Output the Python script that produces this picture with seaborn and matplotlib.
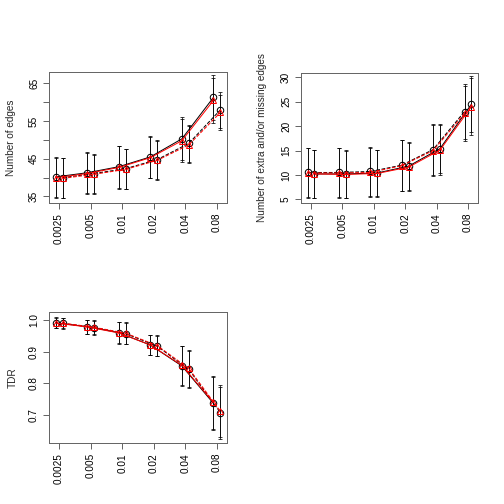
import numpy as np
import pandas as pd
import matplotlib
matplotlib.use('Agg')
import matplotlib.pyplot as plt
import seaborn as sns

# x categories (tuning parameter values)
alphas = ['0.0025', '0.005', '0.01', '0.02', '0.04', '0.08']

# Panel 1: number of edges
edges_black_a = [40.2, 41.3, 42.9, 45.5, 50.3, 61.3]
edges_red_a = [40.0, 41.1, 42.7, 45.3, 49.8, 60.5]
edges_sd_a = [5.3, 5.5, 5.6, 5.5, 5.7, 6.0]
edges_black_b = [40.0, 41.1, 42.4, 44.8, 49.1, 58.0]
edges_red_b = [39.8, 40.9, 42.2, 44.6, 48.7, 57.3]
edges_sd_b = [5.3, 5.2, 5.3, 5.1, 4.9, 4.7]

# Panel 2: number of extra and/or missing edges
shd_black_a = [10.5, 10.5, 10.7, 12.0, 15.2, 23.0]
shd_red_a = [10.4, 10.4, 10.5, 11.9, 15.0, 22.6]
shd_sd_a = [5.1, 5.1, 5.0, 5.2, 5.3, 5.6]
shd_black_b = [10.2, 10.2, 10.4, 11.8, 15.4, 24.5]
shd_red_b = [10.2, 10.1, 10.3, 11.6, 15.1, 24.0]
shd_sd_b = [5.0, 4.9, 4.8, 4.9, 5.1, 5.8]

# Panel 3: TDR
tdr_black_a = [0.991, 0.979, 0.960, 0.921, 0.855, 0.737]
tdr_red_a = [0.990, 0.978, 0.959, 0.921, 0.857, 0.740]
tdr_sd_a = [0.017, 0.022, 0.034, 0.033, 0.062, 0.083]
tdr_black_b = [0.989, 0.976, 0.957, 0.917, 0.844, 0.708]
tdr_red_b = [0.990, 0.977, 0.958, 0.919, 0.847, 0.712]
tdr_sd_b = [0.017, 0.022, 0.034, 0.032, 0.059, 0.082]

sns.set_style('white')
plt.rcParams['font.family'] = ['Liberation Sans', 'DejaVu Sans']
plt.rcParams['font.size'] = 10

FRAME = '#666666'
OFF = 0.11


def draw_panel(ax, ba, ra, sa, bb, rb, sb, ls_a, ls_b, ylabel, ylim, yticks, ylabels, labelpad):
    idx = np.arange(len(alphas))
    df = pd.DataFrame({
        'xa': idx - OFF, 'xb': idx + OFF,
        'ba': ba, 'ra': ra, 'sa': sa,
        'bb': bb, 'rb': rb, 'sb': sb,
    })
    # error bars (black) for every series
    for x, m, s in [('xa', 'ba', 'sa'), ('xa', 'ra', 'sa'), ('xb', 'bb', 'sb'), ('xb', 'rb', 'sb')]:
        ax.errorbar(df[x], df[m], yerr=df[s], fmt='none', ecolor='black',
                    elinewidth=1, capsize=2, capthick=1, alpha=0.75)
    sns.lineplot(data=df, x='xa', y='ba', ax=ax, color='black', linestyle=ls_a, lw=1,
                 marker='o', markersize=6.5, markerfacecolor='none', markeredgecolor='black',
                 markeredgewidth=1)
    sns.lineplot(data=df, x='xb', y='bb', ax=ax, color='black', linestyle=ls_b, lw=1,
                 marker='o', markersize=6.5, markerfacecolor='none', markeredgecolor='black',
                 markeredgewidth=1)
    sns.lineplot(data=df, x='xa', y='ra', ax=ax, color='red', linestyle=ls_a, lw=1,
                 marker='^', markersize=6.5, markerfacecolor='none', markeredgecolor='red',
                 markeredgewidth=1)
    sns.lineplot(data=df, x='xb', y='rb', ax=ax, color='red', linestyle=ls_b, lw=1,
                 marker='^', markersize=6.5, markerfacecolor='none', markeredgecolor='red',
                 markeredgewidth=1)

    ax.set_xlim(-0.32, 5.32)
    ax.set_ylim(*ylim)
    ax.set_xticks(idx)
    ax.set_xticklabels(alphas, rotation=90)
    ax.set_yticks(yticks)
    ax.set_yticklabels(ylabels, rotation=90, va='center')
    ax.set_xlabel('')
    ax.set_ylabel(ylabel, labelpad=labelpad)
    ax.tick_params(axis='both', direction='out', length=6, width=1, color=FRAME,
                   pad=4, labelsize=10, labelcolor='black', bottom=True, left=True)
    for sp in ax.spines.values():
        sp.set_color(FRAME)
        sp.set_linewidth(1)


fig = plt.figure(figsize=(7, 7), dpi=72)
W, H = 504.0, 504.0

ax1 = fig.add_axes([49 / W, 1 - 203 / H, 178 / W, 131 / H])
ax2 = fig.add_axes([301 / W, 1 - 203 / H, 177 / W, 130 / H])
ax3 = fig.add_axes([49 / W, 1 - 443 / H, 178 / W, 131 / H])

draw_panel(ax1, edges_black_a, edges_red_a, edges_sd_a, edges_black_b, edges_red_b, edges_sd_b,
           '-', '--', 'Number of edges', (33.27, 68.05),
           [35, 40, 45, 50, 55, 60, 65], ['35', '', '45', '', '55', '', '65'], 13)
draw_panel(ax2, shd_black_a, shd_red_a, shd_sd_a, shd_black_b, shd_red_b, shd_sd_b,
           '--', '-', 'Number of extra and/or missing edges', (4.24, 30.9),
           [5, 10, 15, 20, 25, 30], ['5', '10', '15', '20', '25', '30'], 14)
draw_panel(ax3, tdr_black_a, tdr_red_a, tdr_sd_a, tdr_black_b, tdr_red_b, tdr_sd_b,
           '-', '--', 'TDR', (0.612, 1.025),
           [0.7, 0.8, 0.9, 1.0], ['0.7', '0.8', '0.9', '1.0'], 11)

fig.savefig('out.png', dpi=72, facecolor='white')
